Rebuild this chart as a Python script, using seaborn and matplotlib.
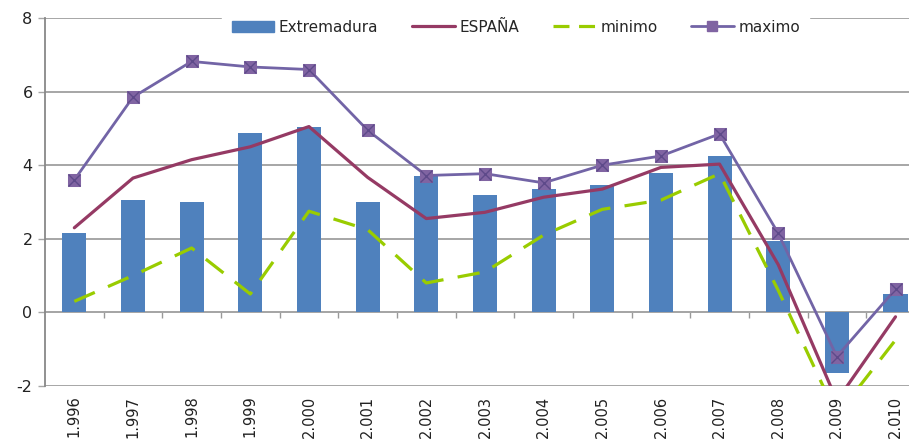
import matplotlib.pyplot as plt
from matplotlib.lines import Line2D
from matplotlib.patches import Patch
import numpy as np
import pandas as pd
import seaborn as sns

sns.set_theme(style="white")
plt.rcParams["font.family"] = ["DejaVu Sans"]
plt.rcParams["axes.unicode_minus"] = False

years = ["1.996", "1.997", "1.998", "1.999", "2.000", "2.001", "2.002", "2.003",
         "2.004", "2.005", "2.006", "2.007", "2.008", "2.009", "2.010"]
extremadura = [2.15, 3.05, 3.0, 4.88, 5.05, 3.0, 3.7, 3.2, 3.35, 3.45, 3.8, 4.25, 1.95, -1.65, 0.5]
espana = [2.3, 3.65, 4.15, 4.5, 5.05, 3.67, 2.55, 2.72, 3.13, 3.35, 3.94, 4.03, 1.3, -2.4, -0.12]
minimo = [0.3, 1.0, 1.75, 0.5, 2.75, 2.25, 0.8, 1.1, 2.1, 2.8, 3.05, 3.77, 0.6, -2.8, -0.75]
maximo = [3.6, 5.85, 6.82, 6.67, 6.6, 4.95, 3.72, 3.77, 3.52, 4.0, 4.25, 4.85, 2.15, -1.2, 0.63]

BAR_C = "#4F81BD"
ESP_C = "#953A64"
MIN_C = "#99CC00"
MAX_C = "#7264A6"
GRID_C = "#A6A6A6"

df = pd.DataFrame({"pos": np.arange(len(years)), "year": years,
                   "Extremadura": extremadura, "ESPAÑA": espana,
                   "minimo": minimo, "maximo": maximo})

fig = plt.figure(figsize=(9.09, 4.43), dpi=100)
ax = fig.add_axes([45 / 909, 1 - 386 / 443, 1 - 45 / 909, (386 - 18) / 443])

sns.barplot(data=df, x="pos", y="Extremadura", color=BAR_C, width=0.41,
            saturation=1, ax=ax, native_scale=True, zorder=2, linewidth=0)
sns.lineplot(data=df, x="pos", y="ESPAÑA", color=ESP_C, lw=2.3, ax=ax, zorder=3)
sns.lineplot(data=df, x="pos", y="minimo", color=MIN_C, lw=2.3, ax=ax, zorder=3,
             dashes=False, linestyle=(0, (7, 4.5)))
sns.lineplot(data=df, x="pos", y="maximo", color=MAX_C, lw=2.0, ax=ax, zorder=4,
             marker="s", markersize=9, markerfacecolor="#8064A2",
             markeredgecolor="#8064A2")
ax.plot(df["pos"], df["maximo"], ls="none", marker="x", markersize=8,
        color="#5E4A8A", mew=1, zorder=5)

ax.set_xlim(-0.5, 14.23)
ax.set_ylim(-2, 8)
ax.set_yticks([-2, 0, 2, 4, 6, 8])
ax.set_xticks(df["pos"])
ax.set_xticklabels(years, rotation=90, fontsize=10.5, color="#222222")
ax.tick_params(axis="x", length=0, pad=7)
ax.tick_params(axis="y", left=True, length=5, width=1, color=GRID_C,
               labelsize=11.5, pad=4, labelcolor="#222222")
ax.set_xlabel("")
ax.set_ylabel("")
ax.grid(axis="y", color=GRID_C, lw=1.4, zorder=0)
ax.set_axisbelow(True)
for s in ["top", "right", "bottom"]:
    ax.spines[s].set_visible(False)
ax.spines["left"].set_color("#888888")
ax.spines["left"].set_linewidth(1.3)

# zero axis with category separators
sec = ax.secondary_xaxis(0.2)
sec.set_xticks(np.arange(len(years) - 1) + 0.5)
sec.set_xticklabels([])
sec.tick_params(length=4, width=1, color="#999999", direction="out")
sec.spines["bottom"].set_color(GRID_C)
sec.spines["bottom"].set_linewidth(1.4)

handles = [
    Patch(facecolor=BAR_C, edgecolor=BAR_C),
    Line2D([], [], color=ESP_C, lw=2.3),
    Line2D([], [], color=MIN_C, lw=2.3, linestyle=(0, (5, 3))),
    Line2D([], [], color=MAX_C, lw=2.0, marker="s", markersize=7,
           markerfacecolor="#8064A2", markeredgecolor="#8064A2"),
]
leg = ax.legend(handles, ["Extremadura", "ESPAÑA", "minimo", "maximo"],
                loc="center", bbox_to_anchor=(0.545, 0.975), ncol=4,
                frameon=True, fontsize=11, handlelength=2.8, handletextpad=0.3,
                columnspacing=2.2, borderpad=0.6, borderaxespad=0)
leg.get_frame().set_facecolor("white")
leg.get_frame().set_edgecolor("white")
leg.get_frame().set_alpha(1)
leg.set_zorder(10)

fig.savefig("out.png", dpi=100)
